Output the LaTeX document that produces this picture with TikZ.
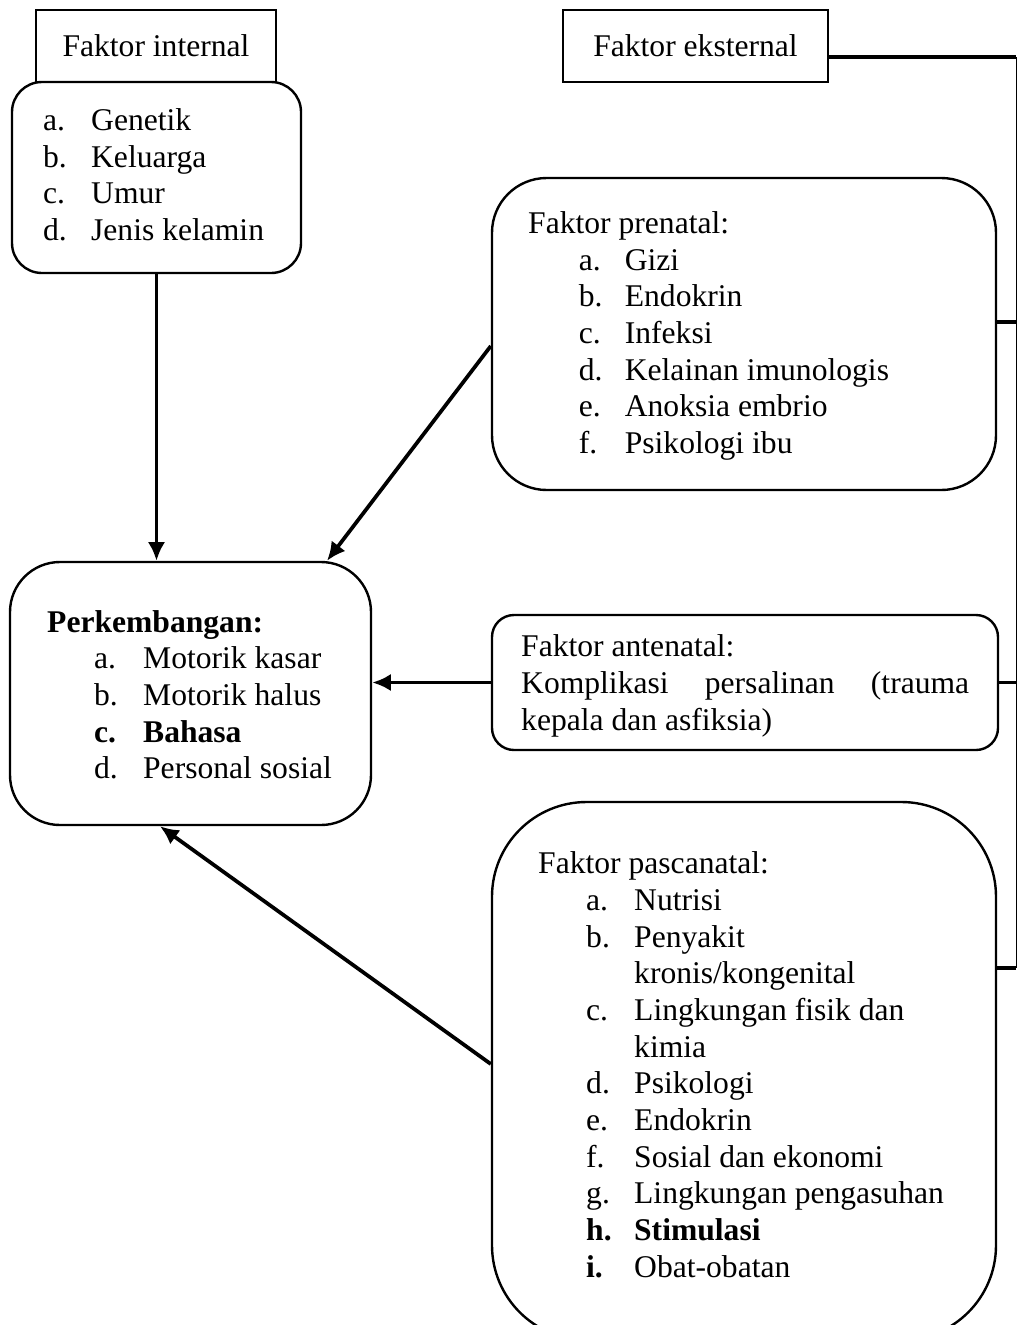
\documentclass[tikz,border=0pt]{standalone}
\usepackage{fontspec}
\setmainfont{Liberation Serif}
\usetikzlibrary{arrows.meta}

\tikzset{every picture/.style={line width=1.8pt}}
\tikzset{
  box/.style={draw, inner sep=0pt},
  txt/.style={anchor=west, inner sep=0pt, font=\fontsize{23.7}{27.5}\selectfont},
  arr/.style={line width=2.8pt, -{Latex[length=14pt,width=13pt]}},
  bus/.style={line width=1pt},
  branch/.style={line width=2.8pt}
}

\begin{document}
\begin{tikzpicture}[x=0.75pt,y=0.75pt,yscale=-1,xscale=1]
\useasboundingbox (0,0) rectangle (1019,1325);

% Boxes
\node[box, minimum width=180pt, minimum height=54pt] (intTitle) at (156,46) {};
\node[box, rounded corners=22.5pt, minimum width=216.75pt, minimum height=143.25pt] (intList) at (156.5,177.5) {};
\node[box, minimum width=198.75pt, minimum height=54pt] (extTitle) at (695.5,46) {};
\node[box, rounded corners=41pt, minimum width=378pt, minimum height=234pt] (pre) at (744,334) {};
\node[box, rounded corners=37.5pt, minimum width=270.75pt, minimum height=197.25pt] (dev) at (190.5,693.5) {};
\node[box, rounded corners=16.5pt, minimum width=379.5pt, minimum height=101.25pt] (ante) at (745,682.5) {};
\node[box, rounded corners=71pt, minimum width=378pt, minimum height=403.5pt] (pasca) at (744,1071) {};

% Text Nodes
\node[txt, anchor=center] (intTitleText) at (intTitle) {Faktor internal};
\node[txt, anchor=center] (extTitleText) at (extTitle) {Faktor eksternal};
\node[txt] (intText) at (42,178) {\begin{tabular}{@{}p{36pt}@{}l@{}}
a. & Genetik\\
b. & Keluarga\\
c. & Umur\\
d. & Jenis kelamin
\end{tabular}};
\node[txt] (preText) at (527,336) {\begin{tabular}{@{}p{38pt}@{}p{34.5pt}@{}l@{}}
\multicolumn{3}{@{}l@{}}{Faktor prenatal:}\\
& a. & Gizi\\
& b. & Endokrin\\
& c. & Infeksi\\
& d. & Kelainan imunologis\\
& e. & Anoksia embrio\\
& f. & Psikologi ibu
\end{tabular}};
\node[txt] (devText) at (46,698) {\begin{tabular}{@{}p{35.25pt}@{}p{36.75pt}@{}l@{}}
\multicolumn{3}{@{}l@{}}{\textbf{Perkembangan:}}\\
& a. & Motorik kasar\\
& b. & Motorik halus\\
& \textbf{c.} & \textbf{Bahasa}\\
& d. & Personal sosial
\end{tabular}};
\node[txt] (anteText) at (520,686) {\begin{tabular}{@{}l@{}}
Faktor antenatal:\\
\makebox[336pt][s]{Komplikasi persalinan (trauma}\\
kepala dan asfiksia)
\end{tabular}};
\node[txt] (pascaText) at (537,1068) {\begin{tabular}{@{}p{36pt}@{}p{36pt}@{}l@{}}
\multicolumn{3}{@{}l@{}}{Faktor pascanatal:}\\
& a. & Nutrisi\\
& b. & Penyakit\\
& & kronis/kongenital\\
& c. & Lingkungan fisik dan\\
& & kimia\\
& d. & Psikologi\\
& e. & Endokrin\\
& f. & Sosial dan ekonomi\\
& g. & Lingkungan pengasuhan\\
& \textbf{h.} & \textbf{Stimulasi}\\
& \textbf{i.} & Obat-obatan
\end{tabular}};

% Arrows
\draw[arr] (intList.south) -- (intList.south |- dev.north);
\draw[arr] ([yshift=9pt]pre.west) -- ([xshift=102.4pt]dev.north);
\draw[arr] (ante.west) -- (ante.west -| dev.east);
\draw[arr] ([yshift=-5.25pt]pasca.west) -- ([xshift=-22.9pt]dev.south);

% External bus line
\draw[branch] ([yshift=8.25pt]extTitle.east) -- ++(187,0) coordinate (busTop);
\coordinate (busBottom) at ([yshift=-77pt]pasca.east -| busTop);
\draw[bus] (busTop) -- (busBottom);
\draw[branch] ([yshift=-9pt]pre.east) -- ([yshift=-9pt]pre.east -| busTop);
\draw[branch] (ante.east) -- (ante.east -| busTop);
\draw[branch] ([yshift=-77pt]pasca.east) -- (busBottom);

\end{tikzpicture}
\end{document}
